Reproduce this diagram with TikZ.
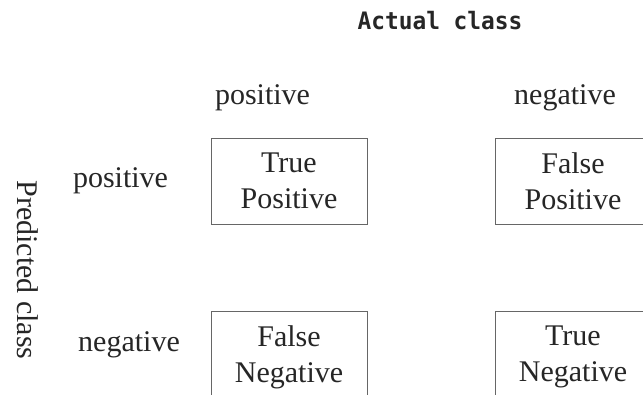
\documentclass[tikz,border=0pt]{standalone}
\usepackage{fontspec}
\setmainfont{Liberation Serif}
\newfontfamily\headfont{DejaVu Sans Mono}
\begin{document}
\begin{tikzpicture}[x=1pt,y=1pt,
  cell/.style={draw=black!60, line width=0.9pt, minimum width=156pt, minimum height=86pt,
    inner sep=0pt, align=center, text depth=0pt, font=\fontsize{30}{36}\selectfont, text=black!85},
  lbl/.style={font=\fontsize{30}{36}\selectfont, anchor=base, text=black!85, inner sep=0pt},
  head/.style={font=\headfont\bfseries\fontsize{24}{28}\selectfont, anchor=base, text=black!85, inner sep=0pt, xscale=0.95}]
\useasboundingbox (0,0) rectangle (643,395);
\clip (0,0) rectangle (643,395);
\fill[white] (0,0) rectangle (643,395);
\node[head] (actual) at (440,365) {Actual class};
\node[lbl] (colpos) at (262.5,290) {positive};
\node[lbl] (colneg) at (565,290) {negative};
\node[lbl] (rowpos) at (120.5,207) {positive};
\node[lbl] (rowneg) at (129,43) {negative};
\node[font=\fontsize{30}{36}\selectfont, text=black!85, rotate=-90, inner sep=0pt] (pred) at (28,125) {Predicted class};
\node[cell] (tp) at (289,214) {True\\Positive};
\node[cell] (fp) at (573,214) {False\\Positive};
\node[cell] (fn) at (289,41) {False\\Negative};
\node[cell] (tn) at (573,41) {True\\Negative};
\end{tikzpicture}
\end{document}
